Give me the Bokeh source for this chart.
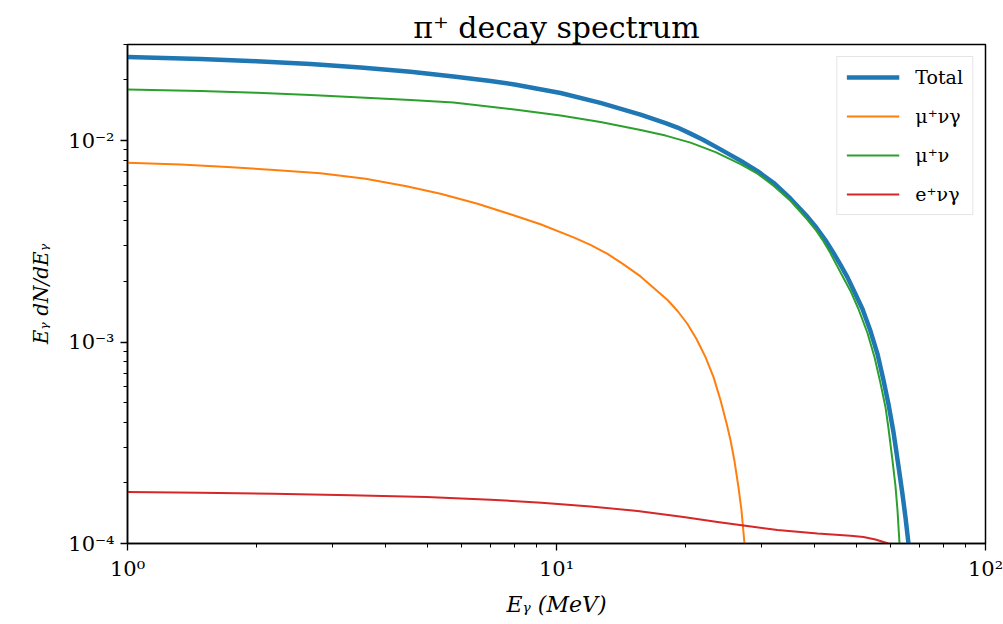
from bokeh.plotting import figure
from bokeh.models import (Range1d, FixedTicker, CustomJSTickFormatter, Legend, LegendItem)
from bokeh.embed import file_html
from bokeh.resources import INLINE

# ---- data ----
total_E = [1.000, 1.480, 1.998, 2.671, 3.493, 4.568, 5.754, 7.018, 7.982, 10.22, 12.66,
           15.70, 17.96, 19.15, 20.53, 21.89, 23.48, 26.85, 29.41, 32.05, 35.12, 38.47,
           40.36, 42.37, 44.22, 45.92, 47.68, 49.24, 51.67, 53.94, 56.01, 57.84, 59.41,
           61.03, 62.69, 64.05, 65.09, 66.14]
total_y = [0.02597, 0.02544, 0.02480, 0.02402, 0.02307, 0.02197, 0.02081, 0.01977, 0.01899,
           0.01723, 0.01540, 0.01347, 0.01222, 0.01161, 0.01083, 0.01012, 0.009335,
           0.007953, 0.007052, 0.006180, 0.005146, 0.004186, 0.003692, 0.003199, 0.002772,
           0.002416, 0.002094, 0.001814, 0.001459, 0.001134, 8.716e-4, 6.469e-4, 4.915e-4,
           3.566e-4, 2.416e-4, 1.753e-4, 1.347e-4, 1.0e-4]

munug_E = [1.000, 1.329, 1.711, 2.154, 2.818, 3.588, 4.471, 5.366, 6.545, 7.812, 9.177,
           10.96, 12.00, 13.15, 14.33, 15.70, 18.15, 19.15, 20.20, 21.20, 22.25, 23.23,
           24.12, 24.91, 25.45, 26.00, 26.56, 26.99, 27.43]
munug_y = [0.007772, 0.007615, 0.007400, 0.007173, 0.006892, 0.006469, 0.005938, 0.005449,
           0.004860, 0.004308, 0.003842, 0.003311, 0.003038, 0.002741, 0.002430, 0.002118,
           0.001618, 0.001426, 0.001229, 0.001035, 8.422e-4, 6.697e-4, 5.146e-4, 3.954e-4,
           3.254e-4, 2.559e-4, 1.899e-4, 1.459e-4, 1.0e-4]

munu_E = [1.000, 1.480, 1.998, 2.671, 3.493, 4.568, 5.754, 7.982, 10.22, 12.66, 15.70,
          17.96, 20.53, 23.48, 26.85, 29.41, 32.05, 35.12, 38.47, 40.36, 41.69, 43.52,
          44.95, 46.67, 48.45, 50.57, 53.07, 55.11, 56.91, 58.46, 59.41, 60.70, 61.69,
          62.36, 63.03]
munu_y = [0.01794, 0.01763, 0.01727, 0.01684, 0.01636, 0.01590, 0.01546, 0.01426, 0.01332,
          0.01236, 0.01128, 0.01059, 0.009772, 0.008767, 0.007641, 0.006852, 0.005972,
          0.005029, 0.004046, 0.003566, 0.003217, 0.002756, 0.002416, 0.002081, 0.001794,
          0.001459, 0.001109, 8.422e-4, 6.252e-4, 4.749e-4, 3.734e-4, 2.588e-4, 1.921e-4,
          1.459e-4, 1.0e-4]

enug_E = [1.000, 1.480, 2.189, 3.311, 4.977, 7.018, 9.227, 12.00, 15.45, 19.77, 23.73,
          27.29, 32.74, 40.58, 48.45, 51.95, 55.41, 57.84, 59.41]
enug_y = [1.804e-4, 1.787e-4, 1.767e-4, 1.737e-4, 1.700e-4, 1.650e-4, 1.594e-4, 1.528e-4,
          1.451e-4, 1.355e-4, 1.279e-4, 1.229e-4, 1.167e-4, 1.121e-4, 1.094e-4, 1.076e-4,
          1.047e-4, 1.017e-4, 1.0e-4]

x_major = [1, 10, 100]
y_major = [1e-4, 1e-3, 1e-2]

FONT = "DejaVu Serif"

p = figure(width=1003, height=624, x_axis_type="log", y_axis_type="log",
           x_range=Range1d(1, 100), y_range=Range1d(1e-4, 0.0300),
           output_backend="svg", toolbar_location=None,
           min_border_left=127, min_border_right=18, min_border_top=44, min_border_bottom=81)

p.title.text = "π⁺ decay spectrum"
p.title.align = "center"
p.title.text_font = FONT
p.title.text_font_size = "30px"
p.title.text_font_style = "normal"
p.title.text_color = "black"
p.title.standoff = 0
p.title.offset = 0

p.grid.visible = False
p.background_fill_color = "white"
p.border_fill_color = "white"
p.outline_line_color = "black"
p.outline_line_width = 1.5
p.outline_line_alpha = 1.0

sup_code = """
const sup = {'-':'⁻','0':'⁰','1':'¹','2':'²','3':'³','4':'⁴','5':'⁵','6':'⁶','7':'⁷','8':'⁸','9':'⁹'};
const e = Math.round(Math.log10(tick));
return '10' + String(e).split('').map(c => sup[c]).join('');
"""

def minors(majors):
    out = []
    for m in majors:
        for k in range(2, 10):
            out.append(m * k)
    return out

p.xaxis.ticker = FixedTicker(ticks=x_major, minor_ticks=minors([1, 10]))
p.yaxis.ticker = FixedTicker(ticks=y_major, minor_ticks=minors([1e-4, 1e-3, 1e-2]))
for ax in (p.xaxis, p.yaxis):
    ax.formatter = CustomJSTickFormatter(code=sup_code)
    ax.major_label_text_font = FONT
    ax.major_label_text_font_size = "21px"
    ax.major_label_text_color = "black"
    ax.axis_line_color = "black"
    ax.axis_line_width = 1.5
    ax.major_tick_line_color = "black"
    ax.major_tick_line_width = 1.3
    ax.minor_tick_line_color = "black"
    ax.minor_tick_line_width = 1.0
    ax.major_tick_out = 7
    ax.major_tick_in = 0
    ax.minor_tick_out = 4
    ax.minor_tick_in = 0
    ax.major_label_standoff = 6
    ax.axis_label_text_font = FONT
    ax.axis_label_text_font_style = "italic"
    ax.axis_label_text_color = "black"

p.xaxis.axis_label = "Eᵧ (MeV)"
p.xaxis.axis_label_text_font_size = "22px"
p.xaxis.axis_label_standoff = 8
p.yaxis.axis_label = "Eᵧ dN/dEᵧ"
p.yaxis.axis_label_text_font_size = "20px"
p.yaxis.axis_label_standoff = 12

r_total = p.line(total_E, total_y, line_color="#1f77b4", line_width=4.5, line_join="round")
r_munug = p.line(munug_E, munug_y, line_color="#ff7f0e", line_width=2, line_join="round")
r_munu = p.line(munu_E, munu_y, line_color="#2ca02c", line_width=2, line_join="round")
r_enug = p.line(enug_E, enug_y, line_color="#d62728", line_width=2, line_join="round")
# total drawn first, thin component lines on top, as in the reference
p.renderers = [r_total, r_munug, r_munu, r_enug]

legend = Legend(items=[LegendItem(label="Total", renderers=[r_total]),
                       LegendItem(label="μ⁺νγ", renderers=[r_munug]),
                       LegendItem(label="μ⁺ν", renderers=[r_munu]),
                       LegendItem(label="e⁺νγ", renderers=[r_enug])],
                location="top_right")
legend.label_text_font = FONT
legend.label_text_font_size = "19px"
legend.label_text_color = "black"
legend.border_line_color = "#cccccc"
legend.border_line_width = 1.5
legend.background_fill_color = "white"
legend.background_fill_alpha = 0.85
legend.margin = 12
legend.padding = 9
legend.spacing = 17
legend.glyph_width = 53
legend.glyph_height = 20
legend.label_height = 20
legend.label_standoff = 16
p.add_layout(legend)

open("out.html", "w").write(file_html(p, INLINE))
